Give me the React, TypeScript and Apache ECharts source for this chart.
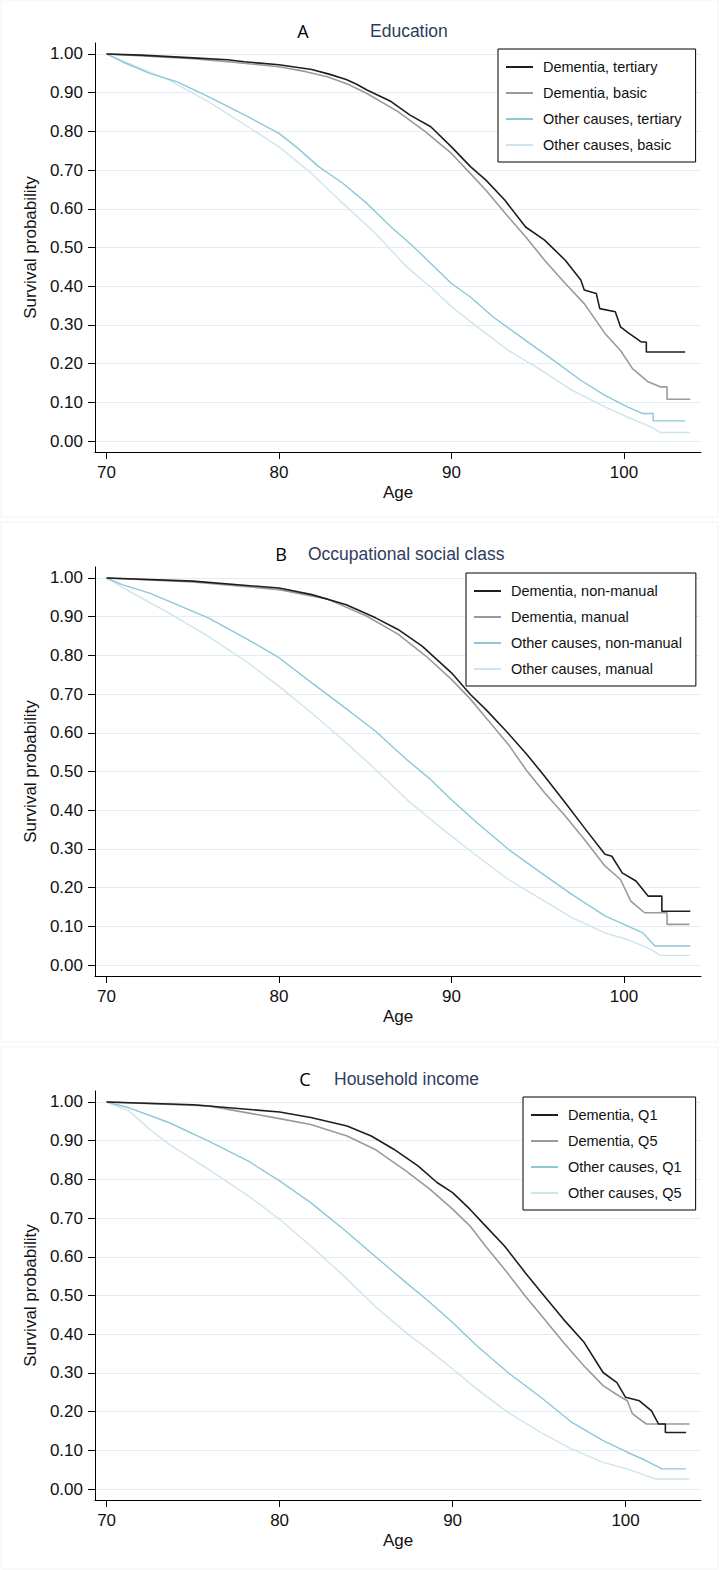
import React, { useEffect, useRef } from "react";
import * as echarts from "echarts";

const FONT = '"Liberation Sans", Arial, sans-serif';

const yTicks = [0, 0.1, 0.2, 0.3, 0.4, 0.5, 0.6, 0.7, 0.8, 0.9, 1.0];
const xTicks = [70, 80, 90, 100];

const panelLetters = ["A", "B", "C"];
const panelTitles = ["Education", "Occupational social class", "Household income"];

const eduNames = ["Dementia, tertiary", "Dementia, basic", "Other causes, tertiary", "Other causes, basic"];
const occNames = ["Dementia, non-manual", "Dementia, manual", "Other causes, non-manual", "Other causes, manual"];
const incNames = ["Dementia, Q1", "Dementia, Q5", "Other causes, Q1", "Other causes, Q5"];

// Panel A — Education
const eduDemTertiary: number[][] = [[70,1],[72,0.997],[75,0.99],[77,0.985],[78,0.98],[80,0.972],[81.9,0.96],[82.9,0.948],[83.9,0.934],[84.5,0.922],[85.1,0.907],[86.5,0.877],[87.6,0.842],[88.8,0.812],[90,0.76],[91.1,0.709],[92,0.674],[93.1,0.622],[94.3,0.553],[95.4,0.519],[96.6,0.467],[97.5,0.416],[97.7,0.39],[98.4,0.381],[98.6,0.342],[99.5,0.334],[99.8,0.295],[100.3,0.278],[101,0.256],[101.3,0.256],[101.3,0.23],[103.55,0.23]];
const eduDemBasic: number[][] = [[70,1],[75,0.988],[77.5,0.978],[80,0.967],[81.5,0.955],[82.8,0.941],[84,0.922],[85.1,0.898],[86.9,0.851],[88.5,0.799],[90,0.743],[91.1,0.691],[92,0.648],[93.3,0.579],[94.3,0.528],[95.4,0.467],[96.6,0.407],[97.7,0.355],[98.9,0.278],[99.8,0.234],[100.5,0.187],[101.4,0.153],[102.1,0.14],[102.5,0.14],[102.5,0.108],[103.85,0.108]];
const eduOthTertiary: number[][] = [[70,1],[70.9,0.98],[72.5,0.95],[74.1,0.928],[75.9,0.89],[78.2,0.838],[80,0.795],[81,0.76],[82.3,0.709],[83.7,0.666],[85.1,0.614],[86.5,0.553],[87.8,0.502],[89,0.45],[90,0.407],[91.1,0.372],[92.4,0.321],[94.3,0.26],[95.9,0.209],[97.5,0.157],[98.9,0.118],[100.2,0.088],[101.1,0.071],[101.7,0.071],[101.7,0.052],[103.55,0.052]];
const eduOthBasic: number[][] = [[70,1],[71.3,0.976],[73.6,0.933],[75.9,0.877],[78.2,0.812],[80,0.76],[81.9,0.691],[83.7,0.614],[85.6,0.536],[87.4,0.45],[88.8,0.398],[90,0.347],[91.5,0.295],[93.3,0.234],[95.2,0.183],[97,0.131],[98.9,0.088],[100.2,0.062],[101.6,0.036],[102.1,0.022],[103.85,0.022]];

// Panel B — Occupational social class
const occDemNonManual: number[][] = [[70,1],[75,0.992],[80,0.974],[81.9,0.957],[83.9,0.931],[85.6,0.897],[86.9,0.867],[88.3,0.824],[90,0.755],[91.1,0.699],[92,0.66],[93.1,0.608],[94.3,0.548],[95.4,0.488],[96.6,0.419],[97.7,0.355],[98.9,0.286],[99.3,0.281],[99.9,0.238],[100.7,0.217],[101.4,0.178],[102.2,0.178],[102.2,0.139],[103.85,0.139]];
const occDemManual: number[][] = [[70,1],[75,0.99],[80,0.97],[82.8,0.946],[85.1,0.901],[86.9,0.855],[88.5,0.799],[90,0.738],[91.1,0.687],[92,0.639],[93.3,0.57],[94.3,0.506],[95.4,0.445],[96.6,0.385],[97.7,0.325],[98.9,0.256],[99.8,0.221],[100.4,0.165],[101.2,0.135],[102.5,0.135],[102.5,0.105],[103.8,0.105]];
const occOthNonManual: number[][] = [[70,1],[70.9,0.983],[72.5,0.961],[75.9,0.897],[78.2,0.841],[80,0.794],[81.9,0.729],[83.7,0.669],[85.6,0.604],[87.4,0.531],[88.8,0.479],[90,0.427],[91.5,0.367],[93.3,0.299],[95.2,0.238],[97,0.182],[98.9,0.127],[100.2,0.101],[101.1,0.083],[101.8,0.049],[103.85,0.049]];
const occOthManual: number[][] = [[70,1],[71.3,0.966],[73.6,0.91],[75.9,0.849],[78.2,0.781],[80,0.72],[81.9,0.651],[83.7,0.582],[85.6,0.505],[87.4,0.428],[88.8,0.376],[90,0.333],[91.5,0.281],[93.3,0.221],[95.2,0.17],[97,0.122],[98.9,0.083],[100.2,0.066],[101.6,0.04],[102.1,0.025],[103.85,0.025]];

// Panel C — Household income
const incDemQ1: number[][] = [[70,1],[75,0.993],[80,0.974],[81.8,0.96],[83.9,0.938],[85.3,0.912],[86.6,0.878],[88,0.835],[89.1,0.792],[90,0.766],[91,0.723],[91.9,0.68],[93,0.628],[94.2,0.559],[95.3,0.499],[96.4,0.439],[97.6,0.379],[98.7,0.301],[99.5,0.275],[100,0.237],[100.8,0.228],[101.5,0.202],[101.9,0.168],[102.3,0.168],[102.3,0.146],[103.5,0.146]];
const incDemQ5: number[][] = [[70,1],[75.9,0.99],[80,0.957],[81.8,0.942],[83.9,0.912],[85.5,0.878],[87.3,0.822],[88.7,0.774],[90,0.723],[91,0.68],[91.9,0.628],[93,0.568],[94.2,0.499],[95.3,0.439],[96.4,0.379],[97.6,0.318],[98.7,0.267],[99.6,0.241],[100.1,0.228],[100.4,0.194],[101.2,0.168],[103.7,0.168]];
const incOthQ1: number[][] = [[70,1],[71.3,0.985],[73.6,0.947],[75.9,0.899],[78.2,0.847],[80,0.796],[81.8,0.74],[83.7,0.671],[85.5,0.602],[87.3,0.534],[88.7,0.482],[90,0.43],[91.4,0.37],[93.2,0.301],[95.1,0.237],[96.9,0.172],[98.7,0.125],[100.1,0.095],[101.2,0.073],[102.1,0.052],[103.5,0.052]];
const incOthQ5: number[][] = [[70,1],[71.3,0.977],[72.5,0.929],[73.6,0.891],[75.9,0.826],[78.2,0.757],[80,0.697],[81.8,0.628],[83.7,0.551],[85.5,0.473],[87.3,0.404],[88.7,0.357],[90,0.31],[91.4,0.258],[93.2,0.198],[95.1,0.146],[96.9,0.103],[98.7,0.069],[100.1,0.052],[101.7,0.026],[103.7,0.026]];

const panelNames = [eduNames, occNames, incNames];
const panelData = [
  [eduDemTertiary, eduDemBasic, eduOthTertiary, eduOthBasic],
  [occDemNonManual, occDemManual, occOthNonManual, occOthManual],
  [incDemQ1, incDemQ5, incOthQ1, incOthQ5],
];

const seriesColors = ["#1e1e1e", "#9a9a9a", "#8ec6da", "#cfe4ec"];
const seriesWidths = [1.6, 1.6, 1.4, 1.4];

const gridTops = [43, 567, 1091];
const xMaxes = [104.47, 104.47, 104.36];
const legendPos = [
  { left: 498, top: 49 },
  { left: 466, top: 573 },
  { left: 523, top: 1097 },
];
const titlePos = [
  { letterX: 303, textX: 370, y: 31 },
  { letterX: 281, textX: 308, y: 554 },
  { letterX: 305, textX: 334, y: 1079 },
];

export default function App() {
  const ref = useRef<HTMLDivElement>(null);
  useEffect(() => {
    if (!ref.current) return;
    const chart = echarts.init(ref.current, null, { renderer: "svg" });

    const grids: any[] = [];
    const xAxes: any[] = [];
    const yAxes: any[] = [];
    const series: any[] = [];
    const legends: any[] = [];
    const graphics: any[] = [];

    const panelBoxes = [
      { y: 0, h: 517 },
      { y: 522, h: 520 },
      { y: 1047, h: 522 },
    ];

    for (let p = 0; p < 3; p++) {
      graphics.push({
        type: "rect",
        shape: { x: 1, y: panelBoxes[p].y, width: 717, height: panelBoxes[p].h },
        style: { fill: "none", stroke: "#f3f3f3", lineWidth: 1 },
        z: -10,
      });
      grids.push({ left: 95, top: gridTops[p], width: 606, height: 409, containLabel: false });
      xAxes.push({
        gridIndex: p,
        type: "value",
        min: 69.33,
        max: xMaxes[p],
        name: "Age",
        nameLocation: "middle",
        nameGap: 32,
        nameTextStyle: { fontSize: 17, color: "#111", fontFamily: FONT },
        axisLine: { show: true, onZero: false, lineStyle: { color: "#000", width: 1 } },
        axisTick: { show: true, length: 7, customValues: xTicks, lineStyle: { color: "#000", width: 1 } },
        axisLabel: { customValues: xTicks, fontSize: 17, margin: 12, color: "#111", fontFamily: FONT },
        splitLine: { show: false },
      });
      yAxes.push({
        gridIndex: p,
        type: "value",
        min: -0.0284,
        max: 1.0284,
        name: "Survival probability",
        nameLocation: "middle",
        nameRotate: 90,
        nameGap: 56,
        nameTextStyle: { fontSize: 17, color: "#111", fontFamily: FONT },
        axisLine: { show: true, onZero: false, lineStyle: { color: "#000", width: 1 } },
        axisTick: { show: true, length: 7, customValues: yTicks, lineStyle: { color: "#000", width: 1 } },
        axisLabel: {
          customValues: yTicks,
          fontSize: 17,
          margin: 12,
          color: "#111",
          fontFamily: FONT,
          formatter: (v: number) => v.toFixed(2),
        },
        splitLine: { show: true, lineStyle: { color: "#e4eef2", width: 1 } },
      });
      for (let s = 0; s < 4; s++) {
        series.push({
          type: "line",
          name: panelNames[p][s],
          xAxisIndex: p,
          yAxisIndex: p,
          data: panelData[p][s],
          showSymbol: false,
          symbol: "none",
          lineStyle: { color: seriesColors[s], width: seriesWidths[s] },
          itemStyle: { color: seriesColors[s] },
          z: 10 - s,
        });
      }
      legends.push({
        data: panelNames[p],
        left: legendPos[p].left,
        top: legendPos[p].top,
        orient: "vertical",
        icon: "rect",
        itemWidth: 27,
        itemHeight: 2,
        itemGap: 10,
        padding: [10, 14, 9, 8],
        borderColor: "#000",
        borderWidth: 1,
        backgroundColor: "#fff",
        selectedMode: false,
        textStyle: { fontSize: 14.5, lineHeight: 16, color: "#111", fontFamily: FONT, padding: [0, 0, 0, 5] },
      });
      graphics.push({
        type: "text",
        x: titlePos[p].letterX,
        y: titlePos[p].y,
        style: {
          text: panelLetters[p],
          font: '18px "Open Sans", sans-serif',
          fill: "#000",
          textAlign: "center",
          textVerticalAlign: "middle",
        },
      });
      graphics.push({
        type: "text",
        x: titlePos[p].textX,
        y: titlePos[p].y,
        style: {
          text: panelTitles[p],
          font: '17.5px "Liberation Sans", Arial, sans-serif',
          fill: "#2f3c5c",
          textAlign: "left",
          textVerticalAlign: "middle",
        },
      });
    }

    chart.setOption({
      animation: false,
      backgroundColor: "#fff",
      grid: grids,
      xAxis: xAxes,
      yAxis: yAxes,
      legend: legends,
      series,
      graphic: graphics,
    });
    return () => chart.dispose();
  }, []);

  return (
    <div
      ref={ref}
      style={{ position: "absolute", left: 0, top: 0, width: 720, height: 1570, background: "#fff" }}
    />
  );
}
